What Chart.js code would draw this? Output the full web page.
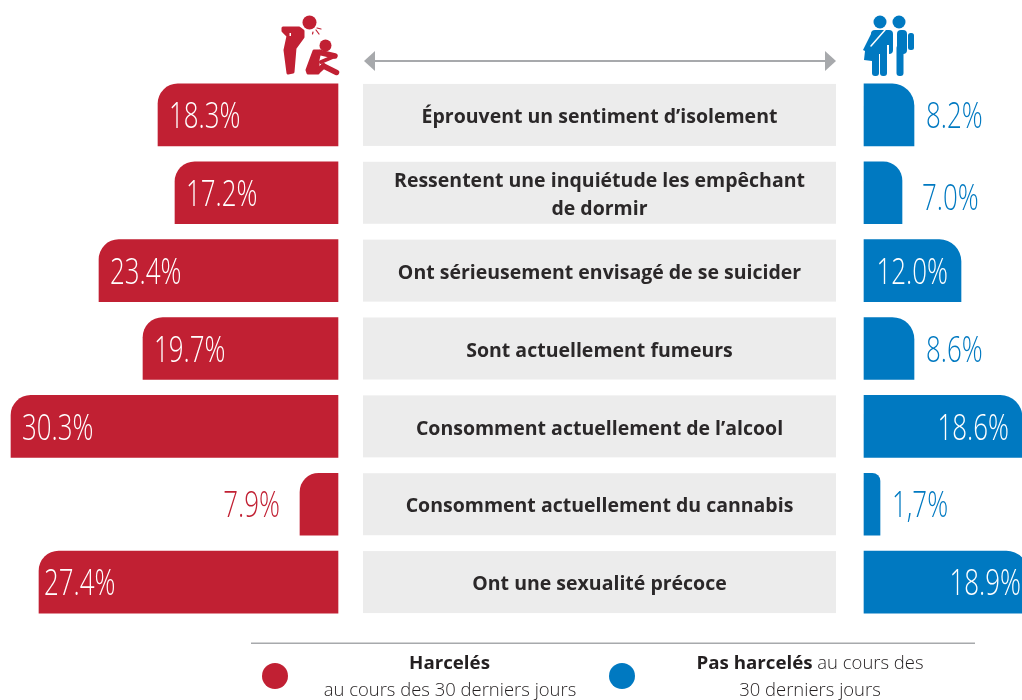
<!DOCTYPE html>
<html lang="fr">
<head>
<meta charset="utf-8">
<title>Harcèlement</title>
<style>html,body{margin:0;padding:0;background:#fff}canvas{display:block}</style>
<script src="https://cdn.jsdelivr.net/npm/chart.js@4/dist/chart.umd.min.js"></script>
</head>
<body>
<canvas id="c" width="1022" height="700"></canvas>
<script>
// Row captions
const categories = [
  "Éprouvent un sentiment d’isolement",
  ["Ressentent une inquiétude les empêchant", "de dormir"],
  "Ont sérieusement envisagé de se suicider",
  "Sont actuellement fumeurs",
  "Consomment actuellement de l’alcool",
  "Consomment actuellement du cannabis",
  "Ont une sexualité précoce"
];
// Printed figures
const harcelesLabels = ["18.3%", "17.2%", "23.4%", "19.7%", "30.3%", "7.9%", "27.4%"];
const nonHarcelesLabels = ["8.2%", "7.0%", "12.0%", "8.6%", "18.6%", "1,7%", "18.9%"];
// Bar lengths as drawn in the picture (the source graphic is not to scale with its figures)
const harcelesBars = [18.0, 16.3, 23.9, 19.5, 32.7, 3.8, 29.9];
const nonHarcelesBars = [5.0, 3.8, 9.7, 5.0, 15.8, 1.6, 16.4];

const RED = "#c12033", BLUE = "#0079c1", GREY = "#a7a9ac", BOX = "#ececec", INK = "#231f20";
const VALUE_FONT = '300 36px "Open Sans"', CAT_FONT = '700 20px "Open Sans"';
const VALUE_SX = 0.72, CAT_SX = 0.975;

function text(ctx, str, x, y, align, font, color, sx) {
  ctx.save();
  ctx.font = font; ctx.fillStyle = color;
  ctx.textAlign = align; ctx.textBaseline = "middle";
  ctx.translate(x, y); ctx.scale(sx, 1);
  ctx.fillText(str, 0, 0);
  ctx.restore();
}
function circle(ctx, x, y, r, color) {
  ctx.fillStyle = color; ctx.beginPath(); ctx.arc(x, y, r, 0, Math.PI * 2); ctx.fill();
}
function poly(ctx, pts, color, round) {
  ctx.fillStyle = color; ctx.beginPath();
  pts.forEach((p, i) => i ? ctx.lineTo(p[0], p[1]) : ctx.moveTo(p[0], p[1]));
  ctx.closePath(); ctx.fill();
  if (round) { ctx.strokeStyle = color; ctx.lineWidth = round; ctx.lineJoin = "round"; ctx.stroke(); }
}
function seg(ctx, a, b, w, color) {
  ctx.strokeStyle = color; ctx.lineWidth = w; ctx.lineCap = "round";
  ctx.beginPath(); ctx.moveTo(a[0], a[1]); ctx.lineTo(b[0], b[1]); ctx.stroke();
}

function drawHeader(ctx) {
  // double arrow
  ctx.fillStyle = GREY; ctx.fillRect(370, 60, 460, 2);
  poly(ctx, [[364, 61], [375, 51], [375, 71]], GREY);
  poly(ctx, [[836, 61], [825, 51], [825, 71]], GREY);
  // harassed icon
  circle(ctx, 309.5, 22.5, 7, RED);
  poly(ctx, [[283, 28], [299, 28], [303, 31], [303, 37], [295, 48], [293, 72], [288, 73], [285, 50], [288, 36], [283, 31]], RED, 3);
  ctx.fillStyle = "#fff"; ctx.fillRect(289.5, 33, 1.5, 3);
  seg(ctx, [313, 32], [312.5, 34], 1.2, RED);
  seg(ctx, [316, 30], [319, 34], 1.2, RED);
  seg(ctx, [317, 28], [321, 29], 1.2, RED);
  circle(ctx, 325.5, 45.5, 6, RED);
  poly(ctx, [[314, 51], [320, 51], [318, 60], [318, 73], [308, 73], [307, 70]], RED, 3);
  seg(ctx, [320, 52.5], [335, 56], 5.5, RED);
  seg(ctx, [335, 56], [321, 62], 4, RED);
  seg(ctx, [318, 71], [323.5, 66], 5.5, RED);
  seg(ctx, [323.5, 66], [336.5, 72.5], 5.5, RED);
  // not harassed icon
  circle(ctx, 880, 22, 6.5, BLUE);
  circle(ctx, 899, 22, 6.5, BLUE);
  ctx.fillStyle = BLUE;
  ctx.beginPath(); ctx.roundRect(871, 30, 22, 24, 4); ctx.fill();
  ctx.beginPath(); ctx.roundRect(872, 45, 7, 31, 3); ctx.fill();
  ctx.beginPath(); ctx.roundRect(880, 45, 7, 31, 3); ctx.fill();
  poly(ctx, [[872, 32], [863, 50], [865, 51], [864, 60], [872, 61]], BLUE);
  seg(ctx, [871, 46], [885, 30], 1.5, "#fff");
  ctx.fillStyle = "#fff"; ctx.fillRect(887, 45, 2, 12);
  ctx.fillStyle = BLUE;
  ctx.beginPath(); ctx.roundRect(897, 30, 10, 24, 4); ctx.fill();
  ctx.beginPath(); ctx.roundRect(896.5, 45, 7, 31, 3); ctx.fill();
  ctx.beginPath(); ctx.roundRect(908, 33, 6, 17, 2.5); ctx.fill();
}

function drawLegend(ctx) {
  ctx.fillStyle = GREY; ctx.fillRect(251, 642.5, 724, 1.5);
  circle(ctx, 275, 676, 13, RED);
  circle(ctx, 622, 676, 13, BLUE);
  const bold = '700 18px "Open Sans"', light = '300 18px "Open Sans"';
  const sb = 1.04, sl = 1.025;
  text(ctx, "Harcelés", 449.5, 663.5, "center", bold, INK, sb);
  text(ctx, "au cours des 30 derniers jours", 450, 690.5, "center", light, INK, sl);
  ctx.save();
  ctx.font = bold; const w1 = ctx.measureText("Pas harcelés").width * sb;
  ctx.font = light; const w2 = ctx.measureText(" au cours des").width * sl;
  ctx.restore();
  const x0 = 810 - (w1 + w2) / 2;
  text(ctx, "Pas harcelés", x0, 663.5, "left", bold, INK, sb);
  text(ctx, " au cours des", x0 + w1, 663.5, "left", light, INK, sl);
  text(ctx, "30 derniers jours", 810, 690.5, "center", light, INK, sl);
}

const backdrop = {
  id: "backdrop",
  beforeDatasetsDraw(chart) {
    const { ctx, scales: { y } } = chart;
    ctx.save();
    drawHeader(ctx);
    categories.forEach((cat, i) => {
      const yc = y.getPixelForValue(i);
      ctx.fillStyle = BOX;
      ctx.fillRect(363, yc - 31, 473, 62);
      const lines = Array.isArray(cat) ? cat : [cat];
      lines.forEach((ln, j) => {
        text(ctx, ln, 599.5, yc + 2.5 + (j - (lines.length - 1) / 2) * 28, "center", CAT_FONT, "#2b2829", CAT_SX);
      });
    });
    drawLegend(ctx);
    ctx.restore();
  }
};

const valueLabels = {
  id: "valueLabels",
  afterDatasetsDraw(chart) {
    const ctx = chart.ctx;
    ctx.save();
    chart.data.datasets.forEach((ds, di) => {
      chart.getDatasetMeta(di).data.forEach((bar, i) => {
        const len = Math.abs(bar.x - bar.base);
        const inside = len > 80;
        const str = ds.printed[i];
        const yc = bar.y + 3;
        if (di === 0) {
          if (inside) text(ctx, str, bar.x + (i === 6 ? 5 : 11), yc, "left", VALUE_FONT, "#fff", VALUE_SX);
          else text(ctx, str, bar.x - 20, yc, "right", VALUE_FONT, RED, VALUE_SX);
        } else {
          if (inside) text(ctx, str, bar.x - (i === 6 ? 7 : 13), yc, "right", VALUE_FONT, "#fff", VALUE_SX);
          else text(ctx, str, bar.x + (i === 1 ? 20 : 12), yc + (i === 1 ? 4 : 0), "left", VALUE_FONT, BLUE, VALUE_SX);
        }
      });
    });
    ctx.restore();
  }
};

function boot() {
  new Chart(document.getElementById("c"), {
    type: "bar",
    data: {
      labels: categories,
      datasets: [
        { label: "Harcelés", data: harcelesBars, printed: harcelesLabels, xAxisID: "xL",
          backgroundColor: RED, borderSkipped: false, borderRadius: { topLeft: 20, topRight: 0, bottomLeft: 0, bottomRight: 0 } },
        { label: "Pas harcelés", data: nonHarcelesBars, printed: nonHarcelesLabels, xAxisID: "xR",
          backgroundColor: BLUE, borderSkipped: false, borderRadius: { topLeft: 0, topRight: 22, bottomLeft: 0, bottomRight: 0 } }
      ]
    },
    options: {
      indexAxis: "y",
      responsive: false,
      animation: false,
      layout: { padding: { top: 76, bottom: 79, left: 0, right: 0 } },
      datasets: { bar: { grouped: false, barThickness: 62 } },
      plugins: { legend: { display: false }, tooltip: { enabled: false } },
      scales: {
        y: { display: false, offset: true, grid: { display: false } },
        xL: { display: false, reverse: true, min: -68.4, max: 33.8, grid: { display: false } },
        xR: { display: false, min: -86.4, max: 15.8, grid: { display: false } }
      }
    },
    plugins: [backdrop, valueLabels]
  });
}
boot();
</script>
</body>
</html>
